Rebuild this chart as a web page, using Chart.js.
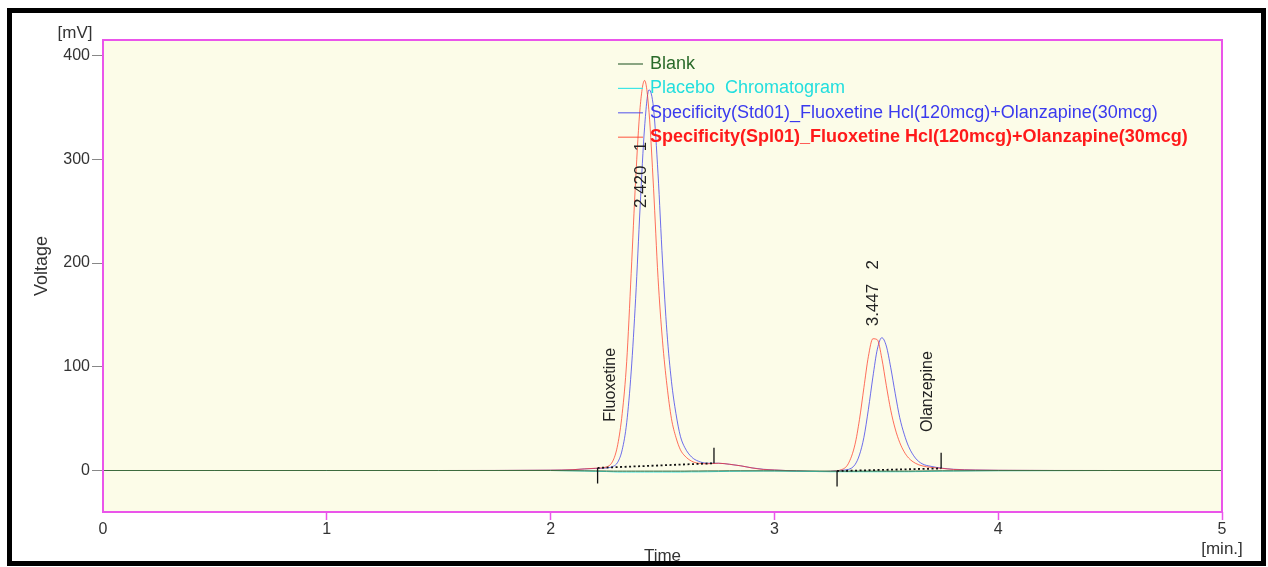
<!DOCTYPE html>
<html>
<head>
<meta charset="utf-8">
<script src="https://cdn.jsdelivr.net/npm/chart.js@4/dist/chart.umd.min.js"></script>
<style>
html, body { margin: 0; padding: 0; background: #fff; }
#wrap { position: relative; width: 1268px; height: 567px; }
#frame { position: absolute; left: 7px; top: 8px; width: 1259px; height: 558px; border: 5px solid #000; box-sizing: border-box; pointer-events: none; }
canvas { position: absolute; left: 0; top: 0; }
</style>
</head>
<body>
<div id="wrap"><canvas id="chrom" width="1268" height="567"></canvas><div id="frame"></div></div>
<script>
// retention time axis (min)
const TIME = [0, 0.5, 1.0, 1.5, 2.0, 2.1, 2.15, 2.2, 2.25, 2.28, 2.30, 2.32, 2.34, 2.36, 2.38, 2.40, 2.42, 2.44, 2.46, 2.48,
    2.50, 2.52, 2.54, 2.56, 2.58, 2.60, 2.63, 2.66, 2.70, 2.75, 2.80, 2.85, 2.90, 2.95, 3.00, 3.10, 3.20, 3.25, 3.30, 3.33,
    3.36, 3.38, 3.40, 3.42, 3.44, 3.46, 3.48, 3.50, 3.52, 3.54, 3.56, 3.58, 3.60, 3.63, 3.66, 3.70, 3.75, 3.80, 3.90, 4.00,
    4.50, 5.00];

// detector response (mV)
const BLANK = [0, 0, 0, 0, 0, -0.2, -0.3, -0.4, -0.5, -0.6, -0.6, -0.6, -0.6, -0.6, -0.6, -0.6, -0.6, -0.6, -0.6, -0.6,
    -0.6, -0.6, -0.6, -0.6, -0.6, -0.6, -0.5, -0.5, -0.4, -0.4, -0.3, -0.3, -0.3, -0.3, -0.3, -0.4, -0.5, -0.6, -0.6, -0.6,
    -0.6, -0.6, -0.6, -0.6, -0.6, -0.6, -0.6, -0.6, -0.6, -0.6, -0.6, -0.6, -0.6, -0.5, -0.5, -0.4, -0.3, -0.3, -0.2, -0.1,
    0, 0];
const PLACEBO = [0, 0, 0, 0, 0, -0.3, -0.5, -0.8, -1.0, -1.3, -1.5, -1.5, -1.5, -1.5, -1.5, -1.5, -1.5, -1.5, -1.5, -1.5,
    -1.5, -1.5, -1.5, -1.5, -1.5, -1.4, -1.3, -1.3, -1.2, -1.0, -0.8, -0.7, -0.6, -0.5, -0.5, -0.8, -1.0, -1.2, -1.2, -1.2,
    -1.2, -1.2, -1.2, -1.2, -1.2, -1.2, -1.2, -1.2, -1.2, -1.2, -1.2, -1.2, -1.2, -1.1, -1.0, -0.8, -0.6, -0.5, -0.3, -0.2,
    0, 0];
const STD01 = [0, 0, 0, 0, 0.3, 0.8, 1.5, 2.0, 2.5, 4, 8, 20, 46, 95, 166, 254, 331, 367, 349, 286,
    202, 133, 86, 55, 33, 22, 13, 9, 7, 7, 6, 4.5, 2.5, 1.2, 0.5, -0.5, -1, -0.8, 0.3, 1,
    5.6, 15, 32, 59, 90, 117, 128, 120, 99, 74, 51, 35, 23, 12, 6.5, 4, 2.2, 1.2, 0.5, 0.2,
    0, 0];
const SPL01 = [0, 0, 0, 0, 0.3, 0.8, 1.5, 2.2, 3.5, 10, 25, 55, 105, 190, 280, 350, 376, 345, 272, 186,
    125, 82, 50, 32, 20, 14, 9, 7, 6.5, 7, 6, 4.5, 2.5, 1, 0.5, -0.5, -1, -0.8, 0.8, 6.5,
    25, 49, 80, 110, 127, 126, 108, 82, 58, 40, 27, 18, 12, 7, 4.5, 3, 2, 1, 0.4, 0.2,
    0, 0];

const SERIES_NAMES = ['Blank', 'Placebo  Chromatogram',
    'Specificity(Std01)_Fluoxetine Hcl(120mcg)+Olanzapine(30mcg)',
    'Specificity(Spl01)_Fluoxetine Hcl(120mcg)+Olanzapine(30mcg)'];

const X_TICKS = [0, 1, 2, 3, 4, 5];
const Y_TICKS = [0, 100, 200, 300, 400];

// peak annotations
const PEAK_RT = ['2.420', '3.447'];
const PEAK_NO = ['1', '2'];
const PEAK_LBL_T = [2.404, 3.44];
const PEAK_LBL_V = [253, 139];
const COMPOUNDS = ['Fluoxetine', 'Olanzepine'];
const COMPOUND_T = [2.27, 3.686];
const COMPOUND_V = [47, 37];

// integration baselines: start / end of each peak
const BASE_T0 = [2.21, 3.28];
const BASE_V0 = [2.5, -0.5];
const BASE_T1 = [2.73, 3.745];
const BASE_V1 = [7, 2];

const LINE_COL = ['#3d6b3d', '#3fe6e6', 'rgba(60,60,235,0.75)', 'rgba(255,50,30,0.7)'];
const TEXT_COL = ['#2a6a2a', '#22dede', '#3a3aee', '#ff1a1a'];
const DRAW_ORDER = [1, 2, 4, 3]; // blank on top, std at the back
const FONT = "'Liberation Sans', Arial, sans-serif";
const MARK = 15; // marker length, mV
const MAGENTA = '#ea55ea';

const pts = vals => TIME.map((t, i) => ({ x: t, y: vals[i] }));

const traces = [BLANK, PLACEBO, STD01, SPL01].map((v, i) => ({
    label: SERIES_NAMES[i],
    data: pts(v),
    borderColor: LINE_COL[i],
    borderWidth: 1,
    pointRadius: 0,
    cubicInterpolationMode: 'monotone',
    order: DRAW_ORDER[i]
}));

const marks = [];
BASE_T0.forEach((t0, i) => {
    marks.push({ data: [{ x: t0, y: BASE_V0[i] }, { x: BASE_T1[i], y: BASE_V1[i] }], borderColor: '#111', borderWidth: 1.8, borderDash: [2, 2.5], pointRadius: 0, order: 0 });
    marks.push({ data: [{ x: t0, y: BASE_V0[i] }, { x: t0, y: BASE_V0[i] - MARK }], borderColor: '#111', borderWidth: 1.3, pointRadius: 0, order: 0 });
    marks.push({ data: [{ x: BASE_T1[i], y: BASE_V1[i] }, { x: BASE_T1[i], y: BASE_V1[i] + MARK }], borderColor: '#111', borderWidth: 1.3, pointRadius: 0, order: 0 });
});

function vText(ctx, txt, x, y) {
    ctx.save();
    ctx.translate(x, y);
    ctx.rotate(-Math.PI / 2);
    ctx.textAlign = 'left';
    ctx.textBaseline = 'middle';
    ctx.fillText(txt, 0, 0);
    ctx.restore();
}

const decor = {
    id: 'decor',
    beforeDatasetsDraw(chart) {
        const { ctx, chartArea: a } = chart;
        ctx.save();
        ctx.fillStyle = '#fcfce8';
        ctx.fillRect(a.left, a.top, a.right - a.left, a.bottom - a.top);
        ctx.restore();
    },
    afterDatasetsDraw(chart) {
        const { ctx, scales: { x, y } } = chart;
        ctx.save();
        // legend
        SERIES_NAMES.forEach((name, i) => {
            const yy = 64 + i * 24.4;
            ctx.strokeStyle = LINE_COL[i];
            ctx.lineWidth = 1.2;
            ctx.beginPath(); ctx.moveTo(618, yy); ctx.lineTo(643, yy); ctx.stroke();
            ctx.fillStyle = TEXT_COL[i];
            ctx.font = (i === 3 ? 'bold ' : '') + '18px ' + FONT;
            ctx.textBaseline = 'middle';
            ctx.fillText(name, 650, yy);
        });
        // peak and compound labels
        ctx.fillStyle = '#222';
        ctx.font = '17px ' + FONT;
        PEAK_RT.forEach((rt, i) => vText(ctx, rt + '   ' + PEAK_NO[i], x.getPixelForValue(PEAK_LBL_T[i]), y.getPixelForValue(PEAK_LBL_V[i])));
        ctx.font = '16px ' + FONT;
        COMPOUNDS.forEach((c, i) => vText(ctx, c, x.getPixelForValue(COMPOUND_T[i]), y.getPixelForValue(COMPOUND_V[i])));
        ctx.restore();
    },
    afterDraw(chart) {
        const { ctx, chartArea: a } = chart;
        ctx.save();
        ctx.strokeStyle = MAGENTA;
        ctx.lineWidth = 2;
        ctx.strokeRect(a.left, a.top, a.right - a.left, a.bottom - a.top);
        ctx.fillStyle = '#333';
        ctx.font = '17px ' + FONT;
        ctx.textAlign = 'center';
        ctx.textBaseline = 'middle';
        ctx.fillText('[mV]', 75, 33);
        ctx.fillText('[min.]', a.right, 549);
        ctx.fillText('Time', (a.left + a.right) / 2, 556);
        ctx.font = '18px ' + FONT;
        ctx.translate(42, 266);
        ctx.rotate(-Math.PI / 2);
        ctx.fillText('Voltage', 0, 0);
        ctx.restore();
    }
};

new Chart(document.getElementById('chrom'), {
    type: 'line',
    data: { datasets: traces.concat(marks) },
    options: {
        responsive: false,
        animation: false,
        devicePixelRatio: 1,
        layout: { padding: { left: 53, top: 40, right: 46, bottom: 0 } },
        plugins: { legend: { display: false }, tooltip: { enabled: false } },
        scales: {
            x: {
                type: 'linear', min: 0, max: 5,
                afterFit: s => { s.height = 55; },
                afterBuildTicks: s => { s.ticks = X_TICKS.map(v => ({ value: v })); },
                border: { display: false },
                grid: { drawOnChartArea: false, tickLength: 8, tickWidth: 1.5, tickColor: c => c.index === 0 ? 'rgba(0,0,0,0)' : MAGENTA },
                ticks: { color: '#333', padding: 0, maxRotation: 0, font: { family: FONT, size: 16 } }
            },
            y: {
                min: -40, max: 415,
                afterFit: s => { s.width = 50; },
                afterBuildTicks: s => { s.ticks = Y_TICKS.map(v => ({ value: v })); },
                border: { display: false },
                grid: { drawOnChartArea: false, tickLength: 11, tickColor: '#888' },
                ticks: { color: '#333', padding: 2, font: { family: FONT, size: 16 } }
            }
        }
    },
    plugins: [decor]
});
</script>
</body>
</html>
